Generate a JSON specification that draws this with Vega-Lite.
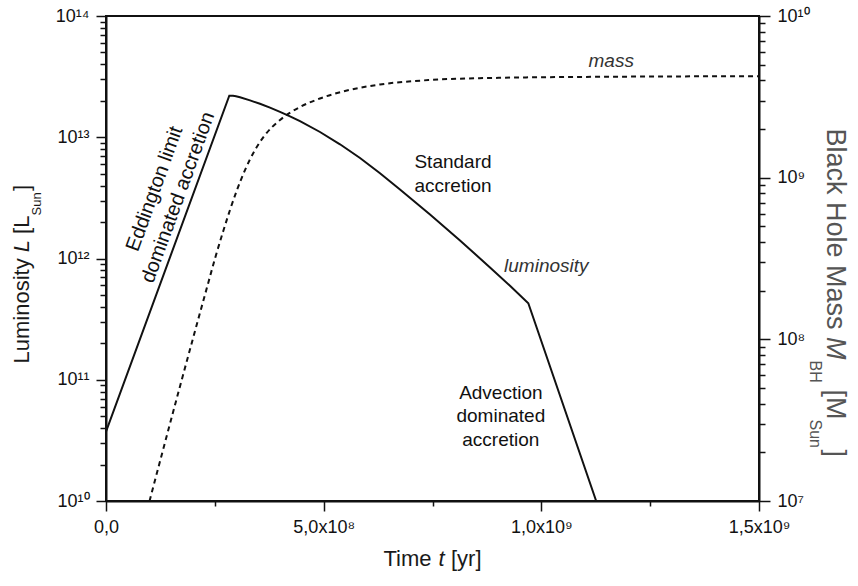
{
  "$schema": "https://vega.github.io/schema/vega-lite/v6.json",
  "width": 653,
  "height": 485,
  "autosize": {"type": "none"},
  "padding": {"left": 106, "top": 16, "right": 99, "bottom": 85},
  "config": {
    "font": "Liberation Sans",
    "view": {"stroke": "#111111", "strokeWidth": 2},
    "axis": {
      "grid": false,
      "domainColor": "#111111",
      "domainWidth": 2,
      "tickColor": "#111111",
      "tickWidth": 1.5,
      "labelFont": "Liberation Sans",
      "labelFontSize": 18,
      "labelColor": "#111111",
      "titleFont": "Liberation Sans",
      "titleFontSize": 22,
      "titleFontWeight": "normal",
      "titleColor": "#1a1a1a",
      "labelFlush": false,
      "labelOverlap": false,
      "labelBound": false
    }
  },
  "resolve": {"scale": {"y": "independent"}, "axis": {"x": "independent", "y": "independent"}},
  "layer": [
    {
      "data": {"values": [
        {"t": 0, "L": 3.73e10},
        {"t": 2.832e8, "L": 2.201e13},
        {"t": 2.917e8, "L": 2.197e13},
        {"t": 2.986e8, "L": 2.180e13},
        {"t": 3.078e8, "L": 2.135e13},
        {"t": 3.308e8, "L": 2.013e13},
        {"t": 3.537e8, "L": 1.887e13},
        {"t": 3.767e8, "L": 1.756e13},
        {"t": 3.997e8, "L": 1.621e13},
        {"t": 4.227e8, "L": 1.489e13},
        {"t": 4.456e8, "L": 1.357e13},
        {"t": 4.916e8, "L": 1.105e13},
        {"t": 5.375e8, "L": 8.75e12},
        {"t": 5.835e8, "L": 6.745e12},
        {"t": 6.294e8, "L": 5.053e12},
        {"t": 6.753e8, "L": 3.708e12},
        {"t": 7.443e8, "L": 2.302e12},
        {"t": 8.132e8, "L": 1.408e12},
        {"t": 8.821e8, "L": 8.445e11},
        {"t": 9.280e8, "L": 5.955e11},
        {"t": 9.701e8, "L": 4.271e11},
        {"t": 1.126e9, "L": 1.0e10}
      ]},
      "mark": {"type": "line", "color": "#111111", "strokeWidth": 2, "clip": true},
      "encoding": {
        "x": {
          "field": "t", "type": "quantitative",
          "scale": {"domain": [0, 1500000000], "nice": false, "zero": false},
          "axis": {
            "orient": "bottom",
            "values": [0, 250000000, 500000000, 750000000, 1000000000, 1250000000, 1500000000],
            "labelExpr": "datum.value == 0 ? '0,0' : datum.value == 500000000 ? '5,0x10\u2078' : datum.value == 1000000000 ? '1,0x10\u2079' : datum.value == 1500000000 ? '1,5x10\u2079' : ''",
            "tickSize": {"condition": {"test": "datum.value % 500000000 == 0", "value": 10}, "value": 5},
            "labelPadding": 7,
            "title": "Time",
            "titleAlign": "left",
            "titleX": 277,
            "titleY": 64,
            "titleBaseline": "alphabetic"
          }
        },
        "y": {
          "field": "L", "type": "quantitative",
          "scale": {"type": "log", "domain": [1e10, 1e14], "nice": false},
          "axis": {
            "orient": "left",
            "values": [1e10, 2e10, 3e10, 4e10, 5e10, 6e10, 7e10, 8e10, 9e10, 1e11, 2e11, 3e11, 4e11, 5e11, 6e11, 7e11, 8e11, 9e11, 1e12, 2e12, 3e12, 4e12, 5e12, 6e12, 7e12, 8e12, 9e12, 1e13, 2e13, 3e13, 4e13, 5e13, 6e13, 7e13, 8e13, 9e13, 1e14],
            "labelExpr": "abs(log(datum.value)/LN10 - round(log(datum.value)/LN10)) < 0.001 ? '10\u00b9' + ['\u2070','\u00b9','\u00b2','\u00b3','\u2074'][round(log(datum.value)/LN10) - 10] : ''",
            "tickSize": {"condition": {"test": "abs(log(datum.value)/LN10 - round(log(datum.value)/LN10)) < 0.001", "value": 10}, "value": 6},
            "labelPadding": 7,
            "title": "Luminosity\u00a0\u00a0\u00a0\u00a0[L\u00a0\u00a0\u00a0\u00a0]",
            "titleAngle": 270,
            "titleAlign": "left",
            "titleBaseline": "alphabetic",
            "titleX": -78,
            "titleY": 347
          }
        }
      }
    },
    {
      "data": {"values": [
        {"t": 1.0e8, "M": 1.0e7},
        {"t": 1.677e8, "M": 4.86e7},
        {"t": 2.35e8, "M": 2.241e8},
        {"t": 2.504e8, "M": 3.162e8},
        {"t": 2.694e8, "M": 4.679e8},
        {"t": 2.848e8, "M": 6.31e8},
        {"t": 3.009e8, "M": 8.39e8},
        {"t": 3.193e8, "M": 1.115e9},
        {"t": 3.423e8, "M": 1.483e9},
        {"t": 3.652e8, "M": 1.836e9},
        {"t": 3.997e8, "M": 2.273e9},
        {"t": 4.456e8, "M": 2.736e9},
        {"t": 4.916e8, "M": 3.089e9},
        {"t": 5.490e8, "M": 3.437e9},
        {"t": 6.294e8, "M": 3.770e9},
        {"t": 7.443e8, "M": 4.019e9},
        {"t": 9.051e8, "M": 4.147e9},
        {"t": 1.1348e9, "M": 4.206e9},
        {"t": 1.5e9, "M": 4.242e9}
      ]},
      "mark": {"type": "line", "color": "#111111", "strokeWidth": 2, "strokeDash": [5, 4], "interpolate": "monotone", "clip": true},
      "encoding": {
        "x": {"field": "t", "type": "quantitative", "scale": {"domain": [0, 1500000000], "nice": false, "zero": false}, "axis": null},
        "y": {
          "field": "M", "type": "quantitative",
          "scale": {"type": "log", "domain": [1e7, 1e10], "nice": false},
          "axis": {
            "orient": "right",
            "values": [1e7, 2e7, 3e7, 4e7, 5e7, 6e7, 7e7, 8e7, 9e7, 1e8, 2e8, 3e8, 4e8, 5e8, 6e8, 7e8, 8e8, 9e8, 1e9, 2e9, 3e9, 4e9, 5e9, 6e9, 7e9, 8e9, 9e9, 1e10],
            "labelExpr": "abs(log(datum.value)/LN10 - round(log(datum.value)/LN10)) < 0.001 ? '10' + (round(log(datum.value)/LN10) == 10 ? '\u00b9\u2070' : ['\u2077','\u2078','\u2079'][round(log(datum.value)/LN10) - 7]) : ''",
            "tickSize": {"condition": {"test": "abs(log(datum.value)/LN10 - round(log(datum.value)/LN10)) < 0.001", "value": 11}, "value": 6},
            "labelPadding": 7,
            "title": "Black Hole Mass\u00a0\u00a0\u00a0\u00a0\u00a0\u00a0\u00a0\u00a0[M\u00a0\u00a0\u00a0\u00a0]",
            "titleFontSize": 27,
            "titleColor": "#555555",
            "titleAngle": 90,
            "titleAlign": "left",
            "titleBaseline": "alphabetic",
            "titleX": 67,
            "titleY": 112
          }
        }
      }
    },
    {
      "data": {"values": [{"t": 1.118e8, "L": 3.75e12, "label": "Eddington limit\ndominated accretion"}]},
      "mark": {"type": "text", "font": "Liberation Sans", "fontSize": 20, "color": "#111111", "angle": 290, "align": "center", "baseline": "middle", "lineBreak": "\n", "lineHeight": 25},
      "encoding": {
        "x": {
          "field": "t", "type": "quantitative", "scale": {"domain": [0, 1500000000], "nice": false, "zero": false},
          "axis": {"orient": "bottom", "domain": false, "ticks": false, "labels": false, "title": "t", "titleFontStyle": "italic", "titleAlign": "left", "titleX": 332, "titleY": 64, "titleBaseline": "alphabetic"}
        },
        "y": {
          "field": "L", "type": "quantitative", "scale": {"type": "log", "domain": [1e10, 1e14], "nice": false},
          "axis": {"orient": "left", "domain": false, "ticks": false, "labels": false, "title": "L", "titleFontStyle": "italic", "titleAngle": 270, "titleAlign": "left", "titleBaseline": "alphabetic", "titleX": -78, "titleY": 235.8}
        },
        "text": {"field": "label"}
      }
    },
    {
      "data": {"values": [{"t": 1.0114e9, "L": 7.78e11, "label": "luminosity"}]},
      "mark": {"type": "text", "font": "Liberation Sans", "fontSize": 19, "fontStyle": "italic", "color": "#333333", "align": "center", "baseline": "alphabetic"},
      "encoding": {
        "x": {
          "field": "t", "type": "quantitative", "scale": {"domain": [0, 1500000000], "nice": false, "zero": false},
          "axis": {"orient": "bottom", "domain": false, "ticks": false, "labels": false, "title": "[yr]", "titleAlign": "left", "titleX": 344.5, "titleY": 64, "titleBaseline": "alphabetic"}
        },
        "y": {
          "field": "L", "type": "quantitative", "scale": {"type": "log", "domain": [1e10, 1e14], "nice": false},
          "axis": {"orient": "left", "domain": false, "ticks": false, "labels": false, "title": "Sun", "titleFontSize": 13, "titleAngle": 270, "titleAlign": "left", "titleBaseline": "alphabetic", "titleX": -66, "titleY": 199}
        },
        "text": {"field": "label"}
      }
    },
    {
      "data": {"values": [{"t": 7.971e8, "M": 1.258e9, "label": "Standard\naccretion"}]},
      "mark": {"type": "text", "font": "Liberation Sans", "fontSize": 19, "color": "#111111", "align": "center", "baseline": "middle", "lineBreak": "\n", "lineHeight": 24},
      "encoding": {
        "x": {"field": "t", "type": "quantitative", "scale": {"domain": [0, 1500000000], "nice": false, "zero": false}, "axis": null},
        "y": {
          "field": "M", "type": "quantitative", "scale": {"type": "log", "domain": [1e7, 1e10], "nice": false},
          "axis": {"orient": "right", "domain": false, "ticks": false, "labels": false, "title": "BH", "titleFontSize": 16, "titleColor": "#555555", "titleAngle": 90, "titleAlign": "left", "titleBaseline": "alphabetic", "titleX": 50, "titleY": 344}
        },
        "text": {"field": "label"}
      }
    },
    {
      "data": {"values": [{"t": 9.07e8, "M": 4.684e7, "label": "Advection\ndominated\naccretion"}]},
      "mark": {"type": "text", "font": "Liberation Sans", "fontSize": 19, "color": "#111111", "align": "center", "baseline": "middle", "lineBreak": "\n", "lineHeight": 23.5},
      "encoding": {
        "x": {"field": "t", "type": "quantitative", "scale": {"domain": [0, 1500000000], "nice": false, "zero": false}, "axis": null},
        "y": {
          "field": "M", "type": "quantitative", "scale": {"type": "log", "domain": [1e7, 1e10], "nice": false},
          "axis": {"orient": "right", "domain": false, "ticks": false, "labels": false, "title": "Sun", "titleFontSize": 16, "titleColor": "#555555", "titleAngle": 90, "titleAlign": "left", "titleBaseline": "alphabetic", "titleX": 50, "titleY": 403}
        },
        "text": {"field": "label"}
      }
    },
    {
      "data": {"values": [{"t": 1.1605e9, "M": 4.85e9, "label": "mass"}]},
      "mark": {"type": "text", "font": "Liberation Sans", "fontSize": 19, "fontStyle": "italic", "color": "#333333", "align": "center", "baseline": "alphabetic"},
      "encoding": {
        "x": {"field": "t", "type": "quantitative", "scale": {"domain": [0, 1500000000], "nice": false, "zero": false}, "axis": null},
        "y": {
          "field": "M", "type": "quantitative", "scale": {"type": "log", "domain": [1e7, 1e10], "nice": false},
          "axis": {"orient": "right", "domain": false, "ticks": false, "labels": false, "title": "M", "titleFontStyle": "italic", "titleFontSize": 27, "titleColor": "#555555", "titleAngle": 90, "titleAlign": "left", "titleBaseline": "alphabetic", "titleX": 67, "titleY": 320.5}
        },
        "text": {"field": "label"}
      }
    }
  ]
}
